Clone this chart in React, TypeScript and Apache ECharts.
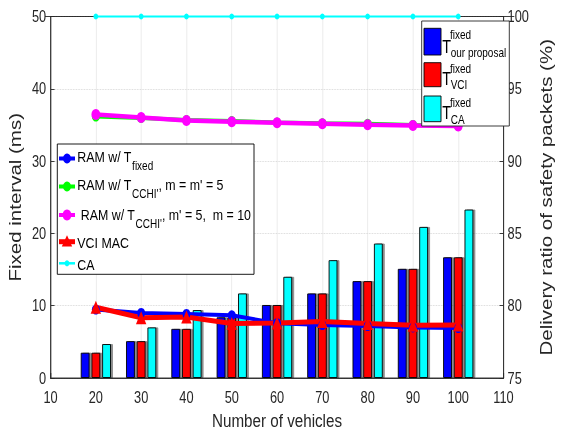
import React, { useEffect, useRef } from "react";
import * as echarts from "echarts";

// Reference picture is horizontally condensed: draw wider, then squash with CSS.
const S = 0.8;
const W = 561 / S;
const H = 435;
const X = (v: number) => v / S;
const FONT = '"Liberation Sans", Arial, Helvetica, sans-serif';
const AXIS_COLOR = "#262626";

const vehicles = [20, 30, 40, 50, 60, 70, 80, 90, 100];
const fixedOurs = [3.5, 5.1, 6.8, 8.4, 10.1, 11.7, 13.4, 15.1, 16.7];
const fixedVCI = [3.5, 5.1, 6.8, 8.4, 10.1, 11.7, 13.4, 15.1, 16.7];
const fixedCA = [4.7, 7.0, 9.4, 11.7, 14.0, 16.3, 18.6, 20.9, 23.3];
const ramFixed = [79.73, 79.5, 79.43, 79.34, 78.79, 78.66, 78.59, 78.49, 78.45];
const ramCCHI5 = [93.08, 92.98, 92.84, 92.77, 92.67, 92.61, 92.58, 92.5, 92.43];
const ramCCHI10 = [93.22, 93.01, 92.81, 92.72, 92.65, 92.58, 92.51, 92.46, 92.42];
const vciMac = [79.89, 79.17, 79.22, 78.77, 78.81, 78.91, 78.77, 78.64, 78.66];
const caRatio = [100, 100, 100, 100, 100, 100, 100, 100, 100];

const leftLegend = [
  { color: "#0000ff", symbol: "circle", main: "RAM w/ T", sub: "fixed", tail: "", ly: 158.5, ty: 156, lw: 4, ms: 5 },
  { color: "#00ff00", symbol: "circle", main: "RAM w/ T", sub: "CCHI'", tail: ", m = m' = 5", ly: 186.5, ty: 184, lw: 4, ms: 5 },
  { color: "#ff00ff", symbol: "circle", main: " RAM w/ T", sub: "CCHI'", tail: ", m' = 5,  m = 10", ly: 215, ty: 214, lw: 4, ms: 5.5 },
  { color: "#ff0000", symbol: "triangle", main: "VCI MAC", sub: "", tail: "", ly: 241.7, ty: 242.5, lw: 5, ms: 6.5 },
  { color: "#00ffff", symbol: "circle", main: "CA", sub: "", tail: "", ly: 263.3, ty: 264, lw: 2.5, ms: 3 },
];

const rightLegend = [
  { color: "#0000ff", sub: "our proposal", sy: 28.3, sh: 26.7, tY: 46.5, supY: 35, subY: 52.5 },
  { color: "#ff0000", sub: "VCI", sy: 62.7, sh: 24, tY: 78, supY: 68.5, subY: 84.5 },
  { color: "#00ffff", sub: "CA", sy: 96, sh: 25.7, tY: 112, supY: 102.5, subY: 120 },
];

const TOP = 16.5;
const BOTTOM_Y = 382.5;

export default function App() {
  const ref = useRef<HTMLDivElement>(null);

  useEffect(() => {
    if (!ref.current) return;
    document.body.style.margin = "0";
    const chart = echarts.init(ref.current, undefined, { renderer: "svg" });

    const canvas = document.createElement("canvas");
    const ctx = canvas.getContext("2d")!;
    const tw = (t: string, size: number) => {
      ctx.font = `${size}px ${FONT}`;
      return ctx.measureText(t).width;
    };

    const txt = (text: string, x: number, y: number, size: number, fill = "#000") => ({
      type: "text",
      z: 100,
      x,
      y,
      style: { text, x: 0, y: 0, fontSize: size, fontFamily: FONT, fill, align: "left", verticalAlign: "middle" },
    });

    const graphics: any[] = [];
    // plot frame (top edge), drawn under the series
    graphics.push({
      type: "line",
      z: 1,
      silent: true,
      shape: { x1: X(45), y1: TOP, x2: X(514.3), y2: TOP },
      style: { stroke: AXIS_COLOR, lineWidth: 1 },
    });
    // left legend box
    graphics.push({
      type: "rect",
      z: 90,
      shape: { x: X(57.3), y: 144, width: X(254) - X(57.3), height: 130.3 },
      style: { fill: "#fff", stroke: "#000", lineWidth: 1 },
    });
    const MAIN = 15.5;
    const SUB = 12.5;
    leftLegend.forEach((r) => {
      graphics.push({
        type: "line",
        z: 100,
        shape: { x1: X(59), y1: r.ly, x2: X(75), y2: r.ly },
        style: { stroke: r.color, lineWidth: r.lw },
      });
      const cx = X(67);
      if (r.symbol === "circle") {
        graphics.push({ type: "circle", z: 101, shape: { cx, cy: r.ly, r: r.ms }, style: { fill: r.color } });
      } else {
        const s = r.ms;
        graphics.push({
          type: "polygon",
          z: 101,
          shape: { points: [[cx, r.ly - s], [cx + s, r.ly + s * 0.75], [cx - s, r.ly + s * 0.75]] },
          style: { fill: r.color },
        });
      }
      const x0 = X(77.3);
      graphics.push(txt(r.main, x0, r.ty, MAIN));
      if (r.sub) {
        const w1 = tw(r.main, MAIN);
        graphics.push(txt(r.sub, x0 + w1 + 0.5, r.ty + 9.5, SUB));
        if (r.tail) {
          const w2 = tw(r.sub, SUB);
          graphics.push(txt(r.tail, x0 + w1 + 0.5 + w2, r.ty, MAIN));
        }
      }
    });

    // right legend box
    graphics.push({
      type: "rect",
      z: 90,
      shape: { x: X(421.7), y: 21, width: X(509.3) - X(421.7), height: 105 },
      style: { fill: "#fff", stroke: AXIS_COLOR, lineWidth: 1 },
    });
    rightLegend.forEach((r) => {
      graphics.push({
        type: "rect",
        z: 100,
        shape: { x: X(424), y: r.sy, width: X(441) - X(424), height: r.sh },
        style: { fill: r.color, stroke: "#000", lineWidth: 1 },
      });
      graphics.push(txt("T", X(442.3), r.tY, 18));
      graphics.push(txt("fixed", X(450), r.supY, 12.5));
      graphics.push(txt(r.sub, X(450.7), r.subY, 12.5));
    });

    const bar = (name: string, data: number[], color: string) => ({
      type: "bar",
      name,
      yAxisIndex: 0,
      data: vehicles.map((v, i) => [v, data[i]]),
      barWidth: X(8.7),
      barGap: "23%",
      itemStyle: {
        color,
        borderColor: "#000",
        borderWidth: 1,
        shadowColor: "rgba(0,0,0,0.45)",
        shadowBlur: 1,
        shadowOffsetX: 2.5,
        shadowOffsetY: 0,
      },
    });

    const line = (name: string, data: number[], color: string, symbol: string, symbolSize: number, width: number) => ({
      type: "line",
      name,
      yAxisIndex: 1,
      data: vehicles.map((v, i) => [v, data[i]]),
      symbol,
      symbolSize,
      showSymbol: true,
      clip: false,
      lineStyle: { color, width },
      itemStyle: { color },
      z: 5,
    });

    const axisLabel = { color: AXIS_COLOR, fontSize: 16, fontFamily: FONT };
    const nameStyle = { color: AXIS_COLOR, fontFamily: FONT };
    const split = { show: true, lineStyle: { color: "#d4d4d4", type: "dotted", width: 1 } };

    chart.setOption({
      animation: false,
      backgroundColor: "#fff",
      grid: {
        left: X(45),
        right: W - X(514.3),
        top: TOP,
        bottom: H - BOTTOM_Y,
        show: true,
        borderColor: AXIS_COLOR,
        borderWidth: 1,
        backgroundColor: "transparent",
      },
      xAxis: {
        type: "value",
        min: 10,
        max: 110,
        interval: 10,
        name: "Number of vehicles",
        nameLocation: "middle",
        nameGap: 33,
        nameTextStyle: { ...nameStyle, fontSize: 19 },
        axisLine: { show: true, onZero: false, lineStyle: { color: AXIS_COLOR, width: 1 } },
        axisTick: { show: true, inside: true, length: 5, lineStyle: { color: AXIS_COLOR } },
        axisLabel: { ...axisLabel, margin: 11 },
        splitLine: split,
      },
      yAxis: [
        {
          type: "value",
          position: "left",
          min: 0,
          max: 50,
          interval: 10,
          name: "Fixed interval (ms)",
          nameLocation: "middle",
          nameGap: 26,
          nameTextStyle: { ...nameStyle, fontSize: 20.5 },
          axisLine: { show: true, lineStyle: { color: AXIS_COLOR, width: 1 } },
          axisTick: { show: true, inside: true, length: 5, lineStyle: { color: AXIS_COLOR } },
          axisLabel: { ...axisLabel, margin: 5.5 },
          splitLine: split,
        },
        {
          type: "value",
          position: "right",
          min: 75,
          max: 100,
          interval: 5,
          name: "Delivery ratio of safety packets (%)",
          nameLocation: "middle",
          nameGap: 39,
          nameTextStyle: { ...nameStyle, fontSize: 20.5 },
          axisLine: { show: true, lineStyle: { color: AXIS_COLOR, width: 1 } },
          axisTick: { show: true, inside: true, length: 5, lineStyle: { color: AXIS_COLOR } },
          axisLabel: { ...axisLabel, margin: 5 },
          splitLine: { show: false },
        },
      ],
      series: [
        bar("T fixed our proposal", fixedOurs, "#0000ff"),
        bar("T fixed VCI", fixedVCI, "#ff0000"),
        bar("T fixed CA", fixedCA, "#00ffff"),
        line("RAM w/ T CCHI', m = m' = 5", ramCCHI5, "#00ff00", "circle", 10, 4),
        line("RAM w/ T CCHI', m' = 5, m = 10", ramCCHI10, "#ff00ff", "circle", 11, 4.5),
        line("RAM w/ T fixed", ramFixed, "#0000ff", "circle", 10, 4),
        line("VCI MAC", vciMac, "#ff0000", "triangle", 13, 5),
        line("CA", caRatio, "#00ffff", "circle", 6, 2),
      ],
      graphic: graphics,
    });

    return () => chart.dispose();
  }, []);

  return (
    <div
      ref={ref}
      style={{
        position: "fixed",
        left: 0,
        top: 0,
        width: W,
        height: H,
        transform: `scaleX(${S})`,
        transformOrigin: "0 0",
        background: "#fff",
      }}
    />
  );
}
